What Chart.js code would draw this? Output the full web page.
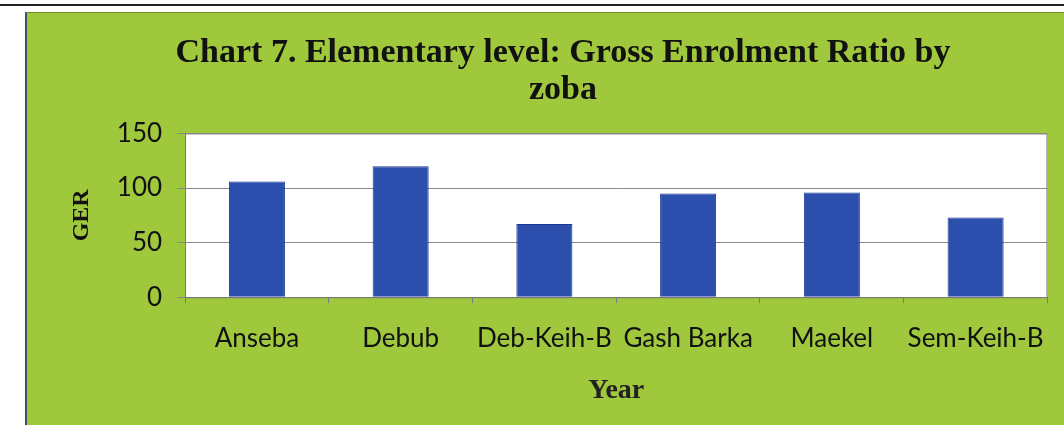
<!DOCTYPE html>
<html>
<head>
<meta charset="utf-8">
<script src="https://cdn.jsdelivr.net/npm/chart.js@4"></script>
<style>
  html, body { margin: 0; padding: 0; background: #fff; width: 1064px; height: 425px; overflow: hidden; }
  #rule { position: absolute; left: 0; top: 4px; width: 1064px; height: 2px; background: #222; }
  #panel { position: absolute; left: 25px; top: 12px; width: 1037px; height: 413px;
           background: #a0c83c; border-left: 2px solid #3a4f6a; border-top: 1px solid #6f8f2a; }
  #panel canvas { display: block; }
</style>
</head>
<body>
<div id="rule"></div>
<div id="panel"><canvas id="chart" width="1037" height="413"></canvas></div>
<script>
const zobas = ["Anseba", "Debub", "Deb-Keih-B", "Gash Barka", "Maekel", "Sem-Keih-B"];
const gerValues = [106, 120, 67, 95, 96, 73];
const yTicks = [0, 50, 100, 150];

// white plot area with a thin frame, like the spreadsheet original
const plotBackground = {
  id: "plotBackground",
  beforeDraw(chart) {
    const { ctx, chartArea: a } = chart;
    ctx.save();
    ctx.fillStyle = "#ffffff";
    ctx.fillRect(a.left, a.top, a.right - a.left, a.bottom - a.top);
    ctx.strokeStyle = "#7a7a7a";
    ctx.lineWidth = 1;
    ctx.strokeRect(a.left + 0.5, a.top + 0.5, a.right - a.left - 1, a.bottom - a.top);
    ctx.restore();
  }
};

new Chart(document.getElementById("chart"), {
  type: "bar",
  data: {
    labels: zobas,
    datasets: [{
      label: "GER",
      data: gerValues,
      backgroundColor: "#2c4fae",
      borderColor: "#1b3990",
      borderWidth: 1,
      barPercentage: 0.39,
      categoryPercentage: 1
    }]
  },
  options: {
    responsive: false,
    animation: false,
    layout: { padding: { left: 40, right: 5, top: 0, bottom: 18 } },
    plugins: {
      legend: { display: false },
      tooltip: { enabled: false },
      title: {
        display: true,
        text: ["Chart 7. Elementary level: Gross Enrolment Ratio by", "zoba"],
        color: "#111",
        font: { family: "Liberation Serif", size: 34, weight: "bold", lineHeight: 1.08 },
        padding: { top: 22, bottom: 25 }
      }
    },
    scales: {
      x: {
        grid: { offset: true, drawOnChartArea: false, drawTicks: true, tickLength: 6, color: "#7a7a7a" },
        border: { color: "#7a7a7a" },
        ticks: { color: "#111", padding: 20, font: { family: "Lato", size: 26 } },
        title: {
          display: true, text: "Year", color: "#222",
          font: { family: "Liberation Serif", size: 28, weight: "bold" },
          padding: { top: 0, bottom: 0 }
        }
      },
      y: {
        min: 0, max: 150,
        afterBuildTicks(axis) { axis.ticks = yTicks.map((v) => ({ value: v })); },
        grid: { color: "#8a8a8a", tickLength: 8 },
        border: { color: "#7a7a7a" },
        ticks: { color: "#111", padding: 15, font: { family: "Lato", size: 26 } },
        title: {
          display: true, text: "GER", color: "#111",
          font: { family: "Liberation Serif", size: 24, weight: "bold" },
          padding: { top: 0, bottom: 6 }
        }
      }
    }
  },
  plugins: [plotBackground]
});
</script>
</body>
</html>
